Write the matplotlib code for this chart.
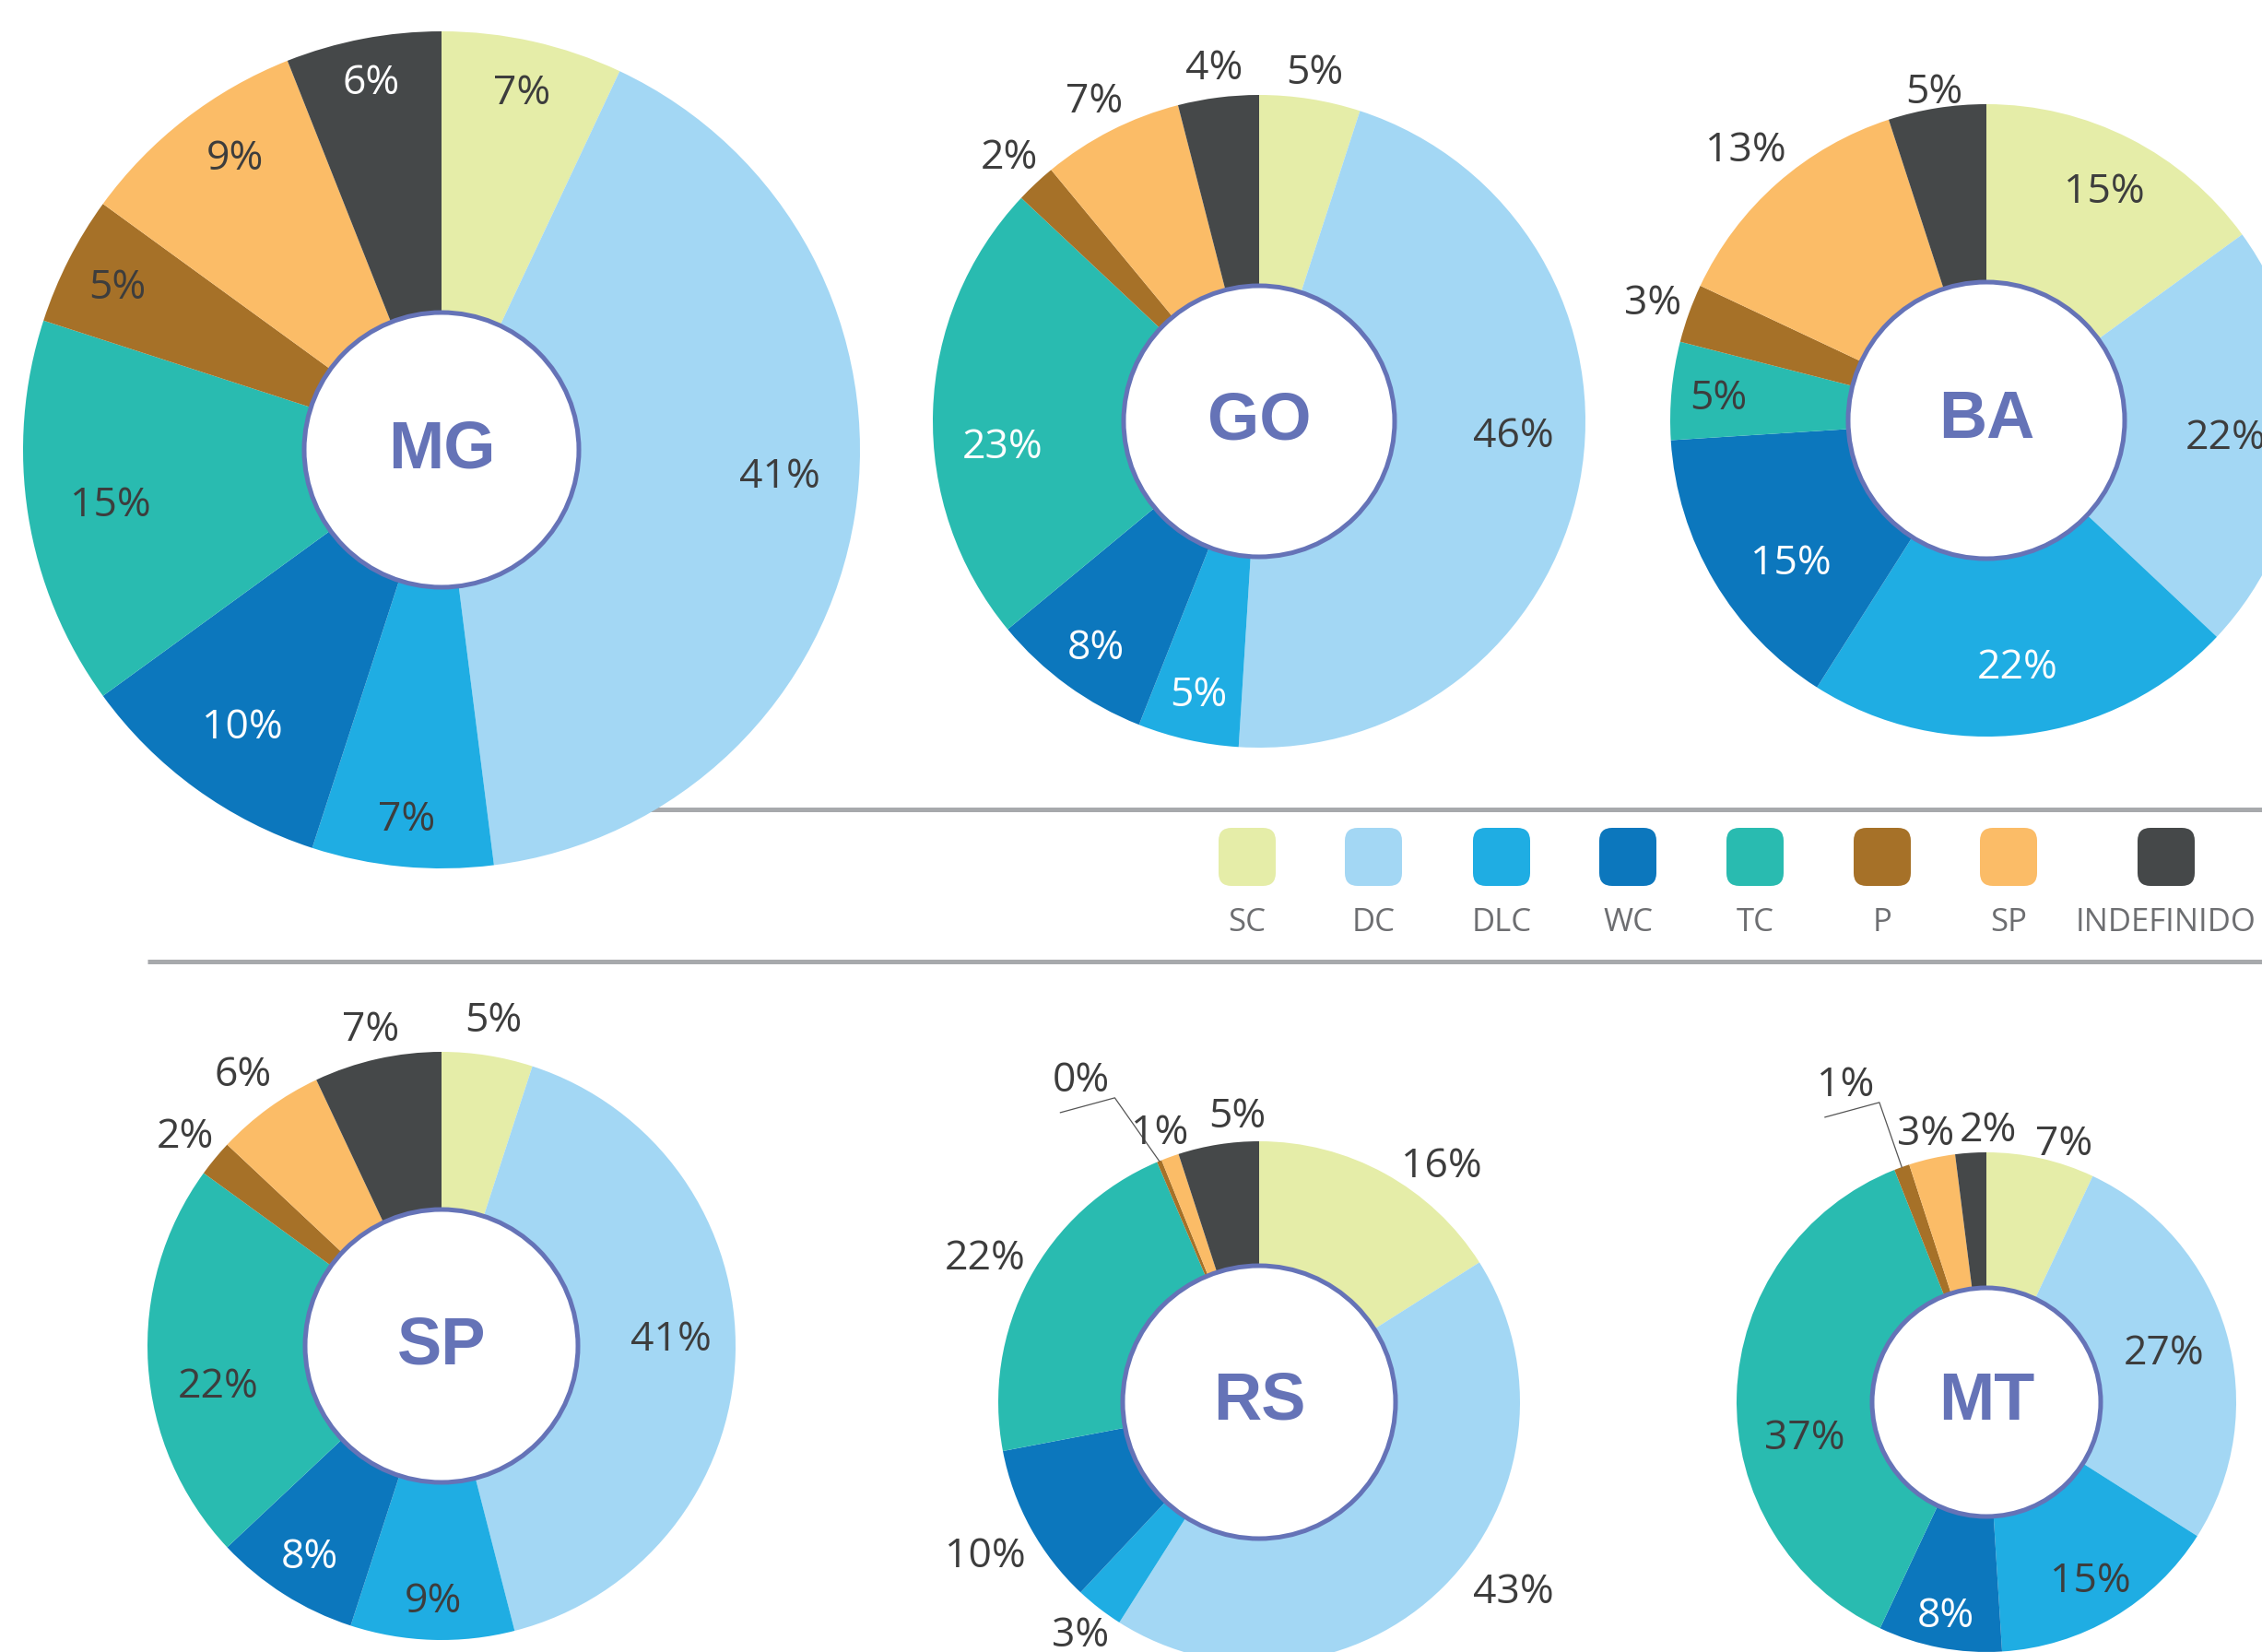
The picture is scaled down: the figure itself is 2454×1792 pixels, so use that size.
import numpy as np
import matplotlib.pyplot as plt
from matplotlib.patches import Circle, FancyBboxPatch

W, H = 2454, 1792

categories = ['SC', 'DC', 'DLC', 'WC', 'TC', 'P', 'SP', 'INDEFINIDO']
colors = ['#e5eda8', '#a3d7f4', '#1fade3', '#0c77bd', '#29bbb0', '#a67128', '#fbbc67', '#454849']

states = ['MG', 'GO', 'BA', 'SP', 'RS', 'MT']
mg = [7, 41, 7, 10, 15, 5, 9, 6]
go = [5, 46, 5, 8, 23, 2, 7, 4]
ba = [15, 22, 22, 15, 5, 3, 13, 5]
sp = [5, 41, 9, 8, 22, 2, 6, 7]
rs = [16, 43, 3, 10, 21.6, 0.3, 1.1, 5]
mt = [7, 27, 15, 8, 37, 1, 3, 2]
values = [mg, go, ba, sp, rs, mt]

# layout (pixels from top-left): center, outer radius, inner radius
centers = [(479, 488), (1366, 457), (2155, 456), (479, 1460), (1366, 1521), (2155, 1521)]
outer_r = [454, 354, 343, 319, 283, 271]
inner_r = [149, 147, 150, 148, 148, 124]
# label distance as a fraction of the outer radius
label_r = [
    [0.88, 0.81, 0.88, 0.81, 0.80, 0.87, 0.86, 0.90],
    [1.09, 0.78, 0.85, 0.85, 0.79, 1.12, 1.11, 1.10],
    [0.82, 0.76, 0.78, 0.76, 0.85, 1.12, 1.15, 1.06],
    [1.13, 0.78, 0.86, 0.84, 0.77, 1.13, 1.15, 1.11],
    [1.15, 1.21, 1.12, 1.20, 1.19, 1.42, 1.11, 1.11],
    [1.09, 0.74, 0.82, 0.86, 0.74, 1.40, 1.11, 1.10],
]
nudge = [{1: -5, 6: 2.7}, {1: -8, 4: -7}, {3: -5}, {1: -4, 4: -6},
         {0: 8.6, 1: -8.6, 5: -6.3, 7: 4.7}, {0: 4, 4: -12, 5: -4, 7: 4}]
white = [{3, 7}, {2, 3, 4}, {2, 3}, {3}, set(), {3}]
leader = [None, None, None, None, 5, 5]

TXT = '#3d3d3d'
RING = '#6573b7'
LINE = '#a7a9ac'

fig = plt.figure(figsize=(W / 100, H / 100), dpi=100)
ax = fig.add_axes([0, 0, 1, 1])

# separator lines around the legend (upper one starts behind MG)
ax.plot([600, W], [H - 878, H - 878], color=LINE, lw=3.6, zorder=0.5, solid_capstyle='butt')
ax.plot([160, W], [H - 1043, H - 1043], color=LINE, lw=3.6, zorder=0.5, solid_capstyle='butt')

for k, name in enumerate(states):
    vals = values[k]
    cx, cy = centers[k][0], H - centers[k][1]
    R = outer_r[k]
    ax.pie(vals, colors=colors, radius=R, center=(cx, cy), startangle=90,
           counterclock=False, wedgeprops=dict(linewidth=0))
    ax.add_patch(Circle((cx, cy), inner_r[k], facecolor='white', edgecolor=RING,
                        lw=3.6, zorder=5))
    ax.text(cx, cy - 19, name, ha='center', va='baseline', fontsize=52,
            fontweight='bold', family='Liberation Sans', color=RING, zorder=6)

    total = float(sum(vals))
    cum = np.cumsum(vals)
    for i, v in enumerate(vals):
        mid = 360 * (cum[i] - v / 2) / total
        ang = np.radians(mid + nudge[k].get(i, 0))
        rr = label_r[k][i] * R
        lx = cx + rr * np.sin(ang)
        ly = cy + rr * np.cos(ang)
        col = 'white' if i in white[k] else TXT
        ax.text(lx, ly - 15, f'{v:.0f}%', ha='center', va='baseline', fontsize=32,
                family='Open Sans', color=col, zorder=7)
        if leader[k] == i:
            a0 = np.radians(mid)
            ex, ey = cx + R * np.sin(a0), cy + R * np.cos(a0)
            ax.plot([ex, lx + 37, lx - 22], [ey, ly - 22, ly - 38],
                    color='#555555', lw=0.9, zorder=7)

# legend
leg_x = [1353, 1490, 1629, 1766, 1904, 2042, 2179, 2350]
for x, c, lab in zip(leg_x, colors, categories):
    ax.add_patch(FancyBboxPatch((x - 21, H - 951), 42, 43,
                                boxstyle='round,pad=10,rounding_size=14',
                                facecolor=c, edgecolor='none', zorder=3))
    ax.text(x, H - 1010, lab, ha='center', va='baseline', fontsize=25,
            family='Open Sans', color='#6d6e71')

ax.set_xlim(0, W)
ax.set_ylim(0, H)
ax.set_aspect('equal')
ax.axis('off')

plt.savefig('out.png', dpi=100)
